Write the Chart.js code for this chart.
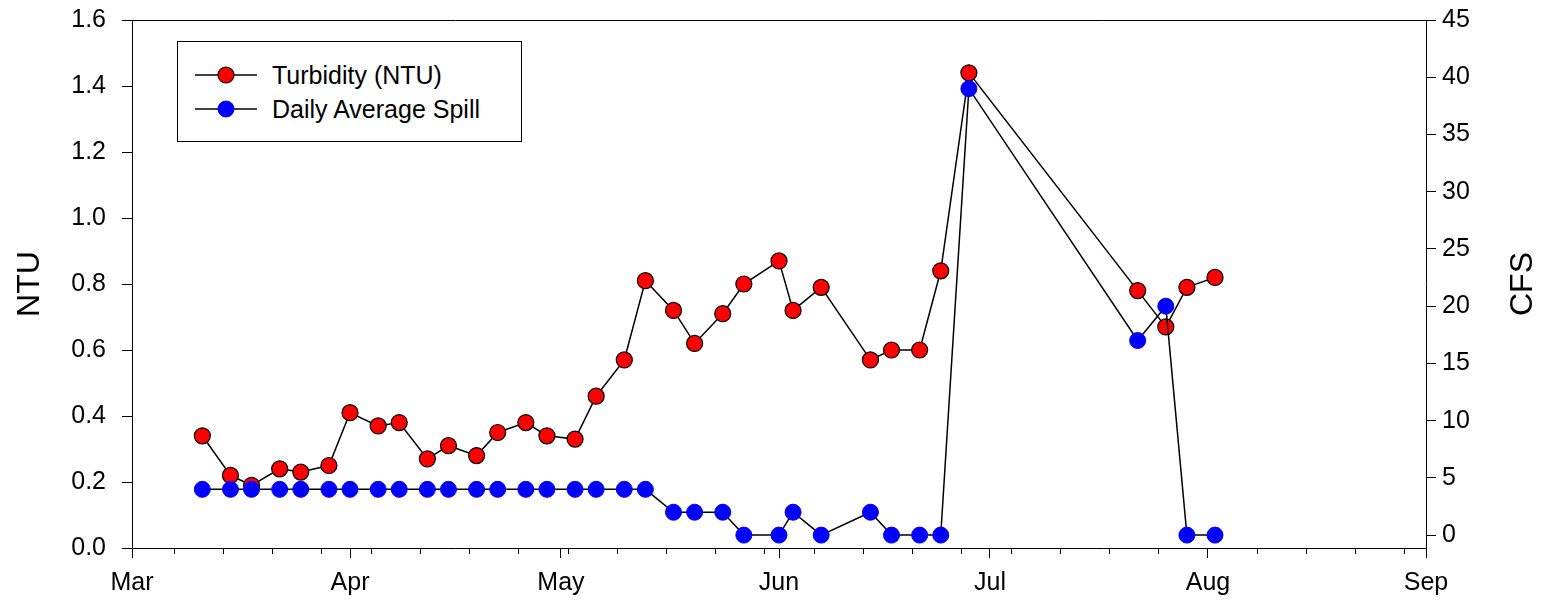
<!DOCTYPE html>
<html>
<head>
<meta charset="utf-8">
<title>Turbidity and Daily Average Spill</title>
<script src="https://cdn.jsdelivr.net/npm/chart.js@4.4.1/dist/chart.umd.min.js"></script>
<style>
    html, body { margin: 0; padding: 0; background: #fff; }
    #wrap { position: relative; width: 1542px; height: 602px; }
    #legend {
        position: absolute; left: 177px; top: 41px;
        width: 343px; height: 99px;
        border: 1px solid #000; background: #fff;
        font-family: "Liberation Sans", Arial, sans-serif; font-size: 25px; color: #000;
    }
    #legend .item { position: absolute; left: 0; height: 30px; width: 100%; }
    #legend svg { position: absolute; left: 17px; top: 0; }
    #legend span { position: absolute; left: 94px; top: 0; line-height: 30px; white-space: nowrap; }
</style>
</head>
<body>
<div id="wrap">
    <canvas id="chart" width="1542" height="602"></canvas>
    <div id="legend"></div>
</div>
<script>
// 샘플링 날짜 (2010, 월/목)
const sampleDates = [
    '2010-03-11', '2010-03-15', '2010-03-18', '2010-03-22', '2010-03-25', '2010-03-29',
    '2010-04-01', '2010-04-05', '2010-04-08', '2010-04-12', '2010-04-15', '2010-04-19',
    '2010-04-22', '2010-04-26', '2010-04-29',
    '2010-05-03', '2010-05-06', '2010-05-10', '2010-05-13', '2010-05-17', '2010-05-20',
    '2010-05-24', '2010-05-27',
    '2010-06-01', '2010-06-03', '2010-06-07', '2010-06-14', '2010-06-17', '2010-06-21',
    '2010-06-24', '2010-06-28',
    '2010-07-22', '2010-07-26', '2010-07-29',
    '2010-08-02'
];

// 탁도 (NTU)
const turbidity = [
    0.34, 0.22, 0.19, 0.24, 0.23, 0.25,
    0.41, 0.37, 0.38, 0.27, 0.31, 0.28, 0.35, 0.38, 0.34,
    0.33, 0.46, 0.57, 0.81, 0.72, 0.62, 0.71, 0.80,
    0.87, 0.72, 0.79, 0.57, 0.60, 0.60, 0.84, 1.44,
    0.78, 0.67, 0.79,
    0.82
];

// 일평균 방류량 (CFS)
const spill = [
    4, 4, 4, 4, 4, 4,
    4, 4, 4, 4, 4, 4, 4, 4, 4,
    4, 4, 4, 4, 2, 2, 2, 0,
    0, 2, 0, 2, 0, 0, 0, 39,
    17, 20, 0,
    0
];

const monthStarts = ['2010-03-01', '2010-04-01', '2010-05-01', '2010-06-01', '2010-07-01', '2010-08-01', '2010-09-01'];
const monthLabels = ['Mar', 'Apr', 'May', 'Jun', 'Jul', 'Aug', 'Sep'];
const ntuTicks = [0, 0.2, 0.4, 0.6, 0.8, 1.0, 1.2, 1.4, 1.6];
const cfsTicks = [0, 5, 10, 15, 20, 25, 30, 35, 40, 45];

// 날짜 -> 3월 1일 기준 일수
const DAY = 86400000;
const origin = Date.UTC(2010, 2, 1);
function dayOf(s) {
    const p = s.split('-').map(Number);
    return (Date.UTC(p[0], p[1] - 1, p[2]) - origin) / DAY;
}

const monthDays = monthStarts.map(dayOf);
const lastDay = monthDays[monthDays.length - 1];
// 주간 보조 눈금 (일요일)
const weekDays = [];
for (let d = dayOf('2010-03-07'); d < lastDay; d += 7) {
    weekDays.push(d);
}

const baseFont = { family: '"Liberation Sans", Arial, sans-serif', size: 25 };

// 위쪽 테두리 + 축 제목
const framePlugin = {
    id: 'frame',
    afterDraw(chart) {
        const { ctx, chartArea: a } = chart;
        ctx.save();
        ctx.strokeStyle = '#000';
        ctx.lineWidth = 1;
        ctx.beginPath();
        ctx.moveTo(a.left, Math.round(a.top) + 0.5);
        ctx.lineTo(a.right, Math.round(a.top) + 0.5);
        ctx.stroke();

        ctx.fillStyle = '#000';
        ctx.font = '32px "Liberation Sans", Arial, sans-serif';
        ctx.textAlign = 'center';
        ctx.textBaseline = 'middle';
        const midY = (a.top + a.bottom) / 2;
        [['NTU', 30], ['CFS', 1523]].forEach(([text, x]) => {
            ctx.save();
            ctx.translate(x, midY);
            ctx.rotate(-Math.PI / 2);
            ctx.fillText(text, 0, 0);
            ctx.restore();
        });
        ctx.restore();
    }
};

// y축: 폭 고정, 라벨 여백이 차트 영역을 밀지 않도록
function fixY(width) {
    return s => {
        s.width = width;
        s.paddingTop = 0;
        s.paddingBottom = 0;
    };
}

const chart = new Chart(document.getElementById('chart'), {
    type: 'line',
    data: {
        datasets: [
            {
                label: 'Turbidity (NTU)',
                data: sampleDates.map((d, i) => ({ x: dayOf(d), y: turbidity[i] })),
                xAxisID: 'x',
                yAxisID: 'y',
                borderColor: '#000',
                borderWidth: 1.5,
                pointRadius: 8,
                pointBackgroundColor: '#ff0000',
                pointBorderColor: '#000',
                pointBorderWidth: 1.2,
                order: 1
            },
            {
                label: 'Daily Average Spill',
                data: sampleDates.map((d, i) => ({ x: dayOf(d), y: spill[i] })),
                xAxisID: 'x',
                yAxisID: 'y1',
                borderColor: '#000',
                borderWidth: 1.5,
                pointRadius: 8,
                pointBackgroundColor: '#0000ff',
                pointBorderColor: '#0000ff',
                pointBorderWidth: 1,
                order: 0
            }
        ]
    },
    options: {
        responsive: false,
        animation: false,
        devicePixelRatio: 1,
        layout: { padding: { top: 20, left: 0, right: 0, bottom: 0 } },
        plugins: {
            legend: { display: false },
            tooltip: { enabled: false }
        },
        scales: {
            xMinor: {
                type: 'linear',
                position: 'bottom',
                min: 0,
                max: lastDay,
                afterBuildTicks: s => { s.ticks = weekDays.map(v => ({ value: v })); },
                afterFit: s => { s.height = 0; },
                grid: { drawOnChartArea: false, tickLength: 6, tickColor: '#000', tickWidth: 1 },
                border: { display: false },
                ticks: { display: false, autoSkip: false }
            },
            x: {
                type: 'linear',
                position: 'bottom',
                min: 0,
                max: lastDay,
                afterBuildTicks: s => { s.ticks = monthDays.map(v => ({ value: v })); },
                afterFit: s => { s.height = 54; },
                grid: { drawOnChartArea: false, tickLength: 10, tickColor: '#000', tickWidth: 1 },
                border: { display: true, color: '#000', width: 1 },
                ticks: {
                    autoSkip: false,
                    maxRotation: 0,
                    padding: 10,
                    color: '#000',
                    font: baseFont,
                    callback: (v, i) => monthLabels[i]
                }
            },
            y: {
                position: 'left',
                min: 0,
                max: 1.6,
                afterBuildTicks: s => { s.ticks = ntuTicks.map(v => ({ value: v })); },
                afterFit: fixY(132),
                grid: { drawOnChartArea: false, tickLength: 10, tickColor: '#000', tickWidth: 1 },
                border: { display: true, color: '#000', width: 1 },
                ticks: {
                    padding: 16,
                    color: '#000',
                    font: baseFont,
                    callback: v => v.toFixed(1)
                }
            },
            y1: {
                position: 'right',
                min: -1.125,
                max: 45,
                afterBuildTicks: s => { s.ticks = cfsTicks.map(v => ({ value: v })); },
                afterFit: fixY(116),
                grid: { drawOnChartArea: false, tickLength: 10, tickColor: '#000', tickWidth: 1 },
                border: { display: true, color: '#000', width: 1 },
                ticks: {
                    padding: 6,
                    crossAlign: 'near',
                    color: '#000',
                    font: baseFont,
                    callback: v => String(v)
                }
            }
        }
    },
    plugins: [framePlugin]
});

// 범례 (테두리 상자)
const legend = document.getElementById('legend');
chart.data.datasets.forEach((ds, i) => {
    const item = document.createElement('div');
    item.className = 'item';
    item.style.top = (18 + i * 34) + 'px';
    item.innerHTML =
        '<svg width="62" height="30">' +
        '<line x1="0" y1="15" x2="62" y2="15" stroke="#000" stroke-width="1.5"/>' +
        '<circle cx="31" cy="15" r="8" fill="' + ds.pointBackgroundColor + '" stroke="' + ds.pointBorderColor +
        '" stroke-width="' + ds.pointBorderWidth + '"/></svg>';
    const label = document.createElement('span');
    label.textContent = ds.label;
    item.appendChild(label);
    legend.appendChild(item);
});
</script>
</body>
</html>
